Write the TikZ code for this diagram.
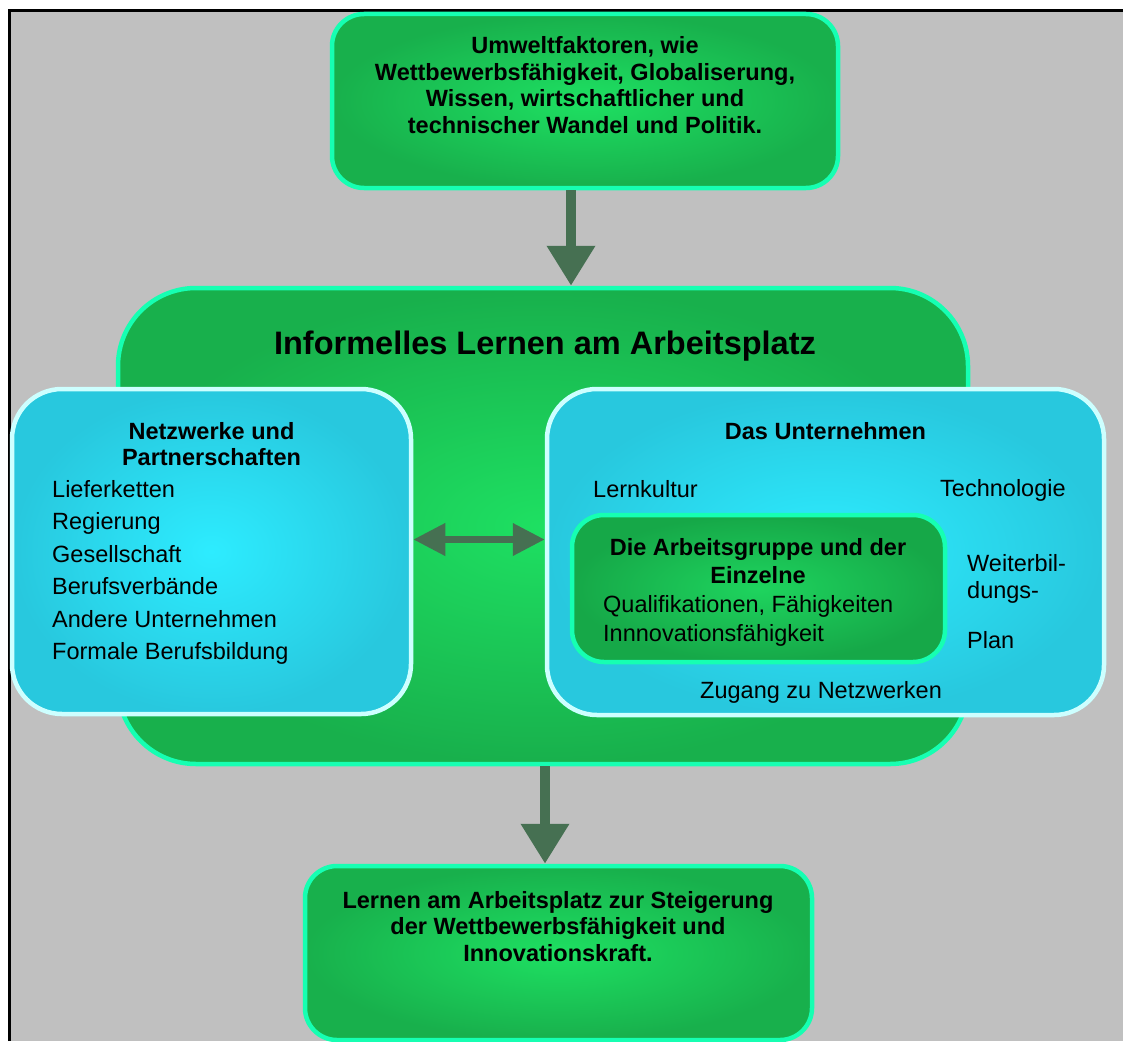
\documentclass[tikz,border=0pt]{standalone}
\usepackage{fontspec}
\setmainfont{Liberation Sans}
\usetikzlibrary{arrows.meta}
\definecolor{gEdge}{RGB}{24,176,76}
\definecolor{gMid}{RGB}{30,224,98}
\definecolor{gInEdge}{RGB}{22,168,72}
\definecolor{gInMid}{RGB}{30,212,94}
\definecolor{cEdge}{RGB}{40,200,222}
\definecolor{cMid}{RGB}{45,236,255}
\definecolor{mint}{RGB}{22,255,178}
\definecolor{ice}{RGB}{205,255,255}
\definecolor{arr}{RGB}{70,112,82}
\definecolor{bggrey}{RGB}{192,192,192}
\begin{document}
\begin{tikzpicture}[x=1pt,y=-1pt,
  gbox/.style={draw=mint, line width=4.5pt, inner color=gMid, outer color=gEdge, inner sep=0pt},
  gin/.style={draw=mint, line width=4.5pt, inner color=gInMid, outer color=gInEdge, inner sep=0pt},
  cbox/.style={draw=ice, line width=4.5pt, inner color=cMid, outer color=cEdge, inner sep=0pt},
  bigarrow/.style={draw=arr, line width=10pt, -{Triangle[width=46pt,length=40pt]}},
  dblarrow/.style={draw=arr, line width=7pt, {Triangle[width=31pt,length=32pt]}-{Triangle[width=31pt,length=32pt]}},
  lbl/.style={inner sep=0pt, text=black, font=\fontsize{23.5}{26.5}\selectfont},
  itm/.style={lbl, anchor=base west},
  head/.style={inner sep=0pt, text=black, align=center, anchor=base, font=\fontsize{23.5}{26.5}\selectfont\bfseries},
]
\useasboundingbox (0,0) rectangle (1123,1041);
\fill[white] (0,0) rectangle (1123,1041);
\fill[bggrey] (9,10) rectangle (1123,1041);
\draw[black, line width=2.7pt] (9.3,1041) -- (9.3,10.5) -- (1123,10.5);

% boxes
\node[gbox, rounded corners=32pt, minimum width=506pt, minimum height=174pt] (top) at (585,101) {};
\node[gbox, rounded corners=78pt, minimum width=850pt, minimum height=476pt] (big) at (543,526) {};
\node[cbox, rounded corners=50pt, minimum width=399pt, minimum height=325pt] (left) at (211.5,551.5) {};
\node[cbox, rounded corners=50pt, minimum width=557pt, minimum height=326pt] (right) at (825.5,552) {};
\node[gin, rounded corners=32pt, minimum width=373pt, minimum height=147pt] (inner) at (758.5,588.5) {};
\node[gbox, rounded corners=32pt, minimum width=507pt, minimum height=174pt] (bottom) at (558.5,953) {};

% connectors
\draw[bigarrow] ([xshift=-14pt]top.south) -- ([xshift=-14pt]top.south |- big.north);
\draw[dblarrow] ([yshift=12pt]left.east) -- ([yshift=12pt]left.east -| right.west);
\draw[bigarrow] ([xshift=2pt]big.south) -- ([xshift=2pt]big.south |- bottom.north);

% texts (base anchor of a multi-line node = last line's baseline)
\node[head] (tTop) at (585,133.4) {Umweltfaktoren, wie\\Wettbewerbsfähigkeit, Globaliserung,\\Wissen, wirtschaftlicher und\\technischer Wandel und Politik.};
\node[inner sep=0pt, anchor=base, font=\fontsize{32.5}{38}\selectfont\bfseries] (tBig) at (545,354.6) {Informelles Lernen am Arbeitsplatz};

\node[head] (tLeft) at (211.5,465.6) {Netzwerke und\\Partnerschaften};
\node[itm] (l1) at (52,497.4) {Lieferketten};
\node[itm] (l2) at (52,529.9) {Regierung};
\node[itm] (l3) at (52,562.4) {Gesellschaft};
\node[itm] (l4) at (52,594.9) {Berufsverbände};
\node[itm] (l5) at (52,627.4) {Andere Unternehmen};
\node[itm] (l6) at (52,659.9) {Formale Berufsbildung};

\node[head] (tRight) at (825.5,439.5) {Das Unternehmen};
\node[itm] (r1) at (593,497.4) {Lernkultur};
\node[itm] (r2) at (940,496.4) {Technologie};
\node[itm] (r3) at (967,571.4) {Weiterbil-};
\node[itm] (r4) at (967,598.4) {dungs-};
\node[itm] (r5) at (967,648.4) {Plan};
\node[itm] (r6) at (700,698.4) {Zugang zu Netzwerken};

\node[head, font=\fontsize{23.5}{28}\selectfont\bfseries] (tInner) at (758,583.4) {Die Arbeitsgruppe und der\\Einzelne};
\node[itm] (i1) at (603,612.4) {Qualifikationen, Fähigkeiten};
\node[itm] (i2) at (603,641.4) {Innnovationsfähigkeit};

\node[head] (tBottom) at (558,961.2) {Lernen am Arbeitsplatz zur Steigerung\\der Wettbewerbsfähigkeit und\\Innovationskraft.};
\end{tikzpicture}
\end{document}
